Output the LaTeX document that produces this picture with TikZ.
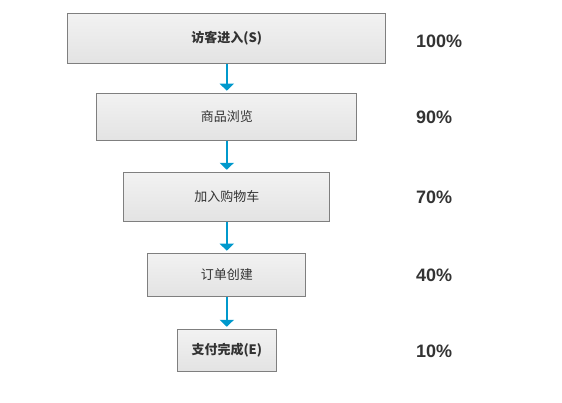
\documentclass[tikz,border=0pt]{standalone}
\usepackage{fontspec}
\setmainfont{Liberation Sans}
\newfontfamily\cjk{Noto Sans CJK SC}
\usetikzlibrary{arrows.meta}
\definecolor{boxborder}{HTML}{7F7F7F}
\definecolor{boxtop}{HTML}{F2F2F2}
\definecolor{boxbot}{HTML}{E3E3E3}
\definecolor{arrowblue}{HTML}{0099CC}
\definecolor{txt}{HTML}{333333}
\begin{document}
\begin{tikzpicture}[x=1pt,y=-1pt,
  stagebox/.style={draw=boxborder,line width=1pt,top color=boxtop,bottom color=boxbot,
    inner sep=0pt,text=txt,font=\cjk\fontsize{13pt}{15pt}\selectfont},
  pct/.style={anchor=west,inner sep=0pt,text=txt,font=\bfseries\fontsize{18pt}{20pt}\selectfont},
  flow/.style={draw=arrowblue,line width=2pt,-{Triangle[width=14pt,length=7pt]},shorten >=2pt}]
\useasboundingbox (0,0) rectangle (562,403);
\node[stagebox,minimum width=318pt,minimum height=50pt] (s1) at (226.8,38.5) {\bfseries 访客进入(S)};
\node[stagebox,minimum width=260pt,minimum height=47pt] (s2) at (226.8,116.7) {商品浏览};
\node[stagebox,minimum width=206pt,minimum height=49pt] (s3) at (226.8,196.8) {加入购物车};
\node[stagebox,minimum width=158pt,minimum height=43pt] (s4) at (226.8,274.7) {订单创建};
\node[stagebox,minimum width=99pt,minimum height=42pt] (s5) at (226.8,350.3) {\bfseries 支付完成(E)};
\foreach \a/\b in {s1/s2,s2/s3,s3/s4,s4/s5}
  \draw[flow] (\a.south) -- (\b.north);
\node[pct] (p1) at (416,41.5) {100\%};
\node[pct] (p2) at (416,117) {90\%};
\node[pct] (p3) at (416,197.3) {70\%};
\node[pct] (p4) at (416,275.7) {40\%};
\node[pct] (p5) at (416,351.5) {10\%};
\end{tikzpicture}
\end{document}
